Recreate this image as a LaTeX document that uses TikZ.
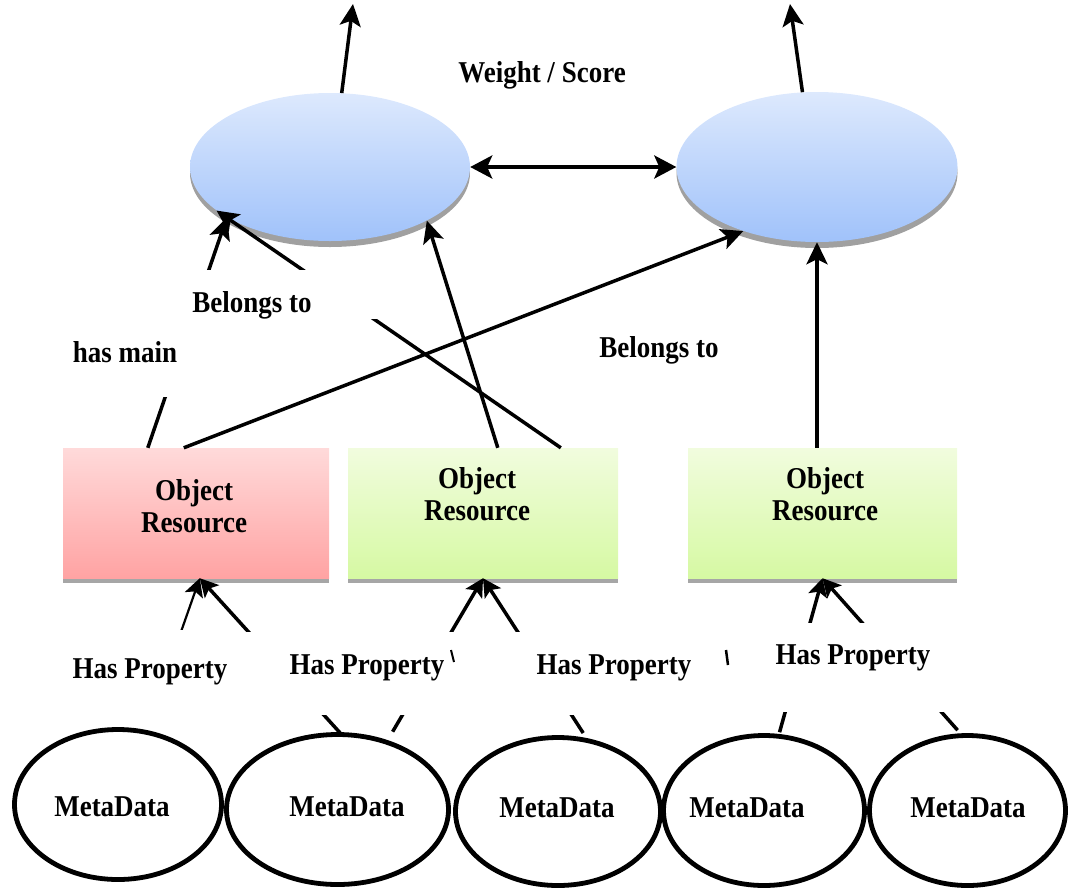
\documentclass[tikz,border=0pt]{standalone}
\usepackage{fontspec}
\usepackage{graphicx}
\setmainfont{Liberation Serif}
\usetikzlibrary{arrows.meta,calc,shadows,shapes.geometric}
\definecolor{blueT}{RGB}{221,233,253}
\definecolor{blueB}{RGB}{160,194,250}
\definecolor{pinkT}{RGB}{255,218,218}
\definecolor{pinkB}{RGB}{255,163,163}
\definecolor{greenT}{RGB}{241,252,222}
\definecolor{greenB}{RGB}{214,249,163}
\newcommand{\tallt}[1]{\scalebox{1}[1.12]{#1}}
\begin{document}
\begin{tikzpicture}[x=1pt,y=-1pt,
  lbl/.style={font=\bfseries\fontsize{27}{32}\selectfont, inner sep=0pt, align=center},
  blueell/.style={ellipse, inner sep=0pt, draw=none, top color=blueT, bottom color=blueB,
    drop shadow={shadow xshift=0pt, shadow yshift=-6pt, fill=gray, opacity=0.75}},
  objbox/.style={rectangle, inner sep=0pt, minimum height=130pt, draw=none,
    drop shadow={shadow xshift=0pt, shadow yshift=-5pt, fill=gray, opacity=0.7}},
  mdell/.style={ellipse, draw=black, line width=4.8pt, inner sep=0pt},
  conn/.style={line width=3.5pt, -{Stealth[length=22pt,width=21pt,inset=5pt]}},
  dbl/.style={line width=3.8pt, {Stealth[length=22pt,width=23pt,inset=5pt]}-{Stealth[length=22pt,width=23pt,inset=5pt]}},
  connb/.style={line width=3.5pt, -{Stealth[length=18pt,width=19pt,inset=4pt]}},
  mask/.style={fill=white, draw=none}]
\useasboundingbox (0,0) rectangle (1073,892);

% upper ellipses
\node[blueell, minimum width=280pt, minimum height=148pt] (e1) at (330,167) {};
\node[blueell, minimum width=281pt, minimum height=150pt] (e2) at (817,167) {};

% object boxes
\node[objbox, minimum width=266pt, top color=pinkT, bottom color=pinkB,
  label={[lbl,xshift=-2pt,yshift=7pt]center:\tallt{Object}\\\tallt{Resource}}] (obj1) at (196,513) {};
\node[objbox, minimum width=270pt, top color=greenT, bottom color=greenB,
  label={[lbl,xshift=-6pt,yshift=19pt]center:\tallt{Object}\\\tallt{Resource}}] (obj2) at (483,513) {};
\node[objbox, minimum width=269pt, top color=greenT, bottom color=greenB,
  label={[lbl,xshift=2.5pt,yshift=19pt]center:\tallt{Object}\\\tallt{Resource}}] (obj3) at (822.5,513) {};

% free ends of the upward arrows
\coordinate (u1) at (353,4);
\coordinate (u2) at (790,4);

% metadata ellipses (defined now, outlined on top later)
\path (118,804.5) node[ellipse, inner sep=0pt, minimum width=207pt, minimum height=150pt] (md1) {};
\path (337.5,809.5) node[ellipse, inner sep=0pt, minimum width=222pt, minimum height=150pt] (md2) {};
\path (558,811.5) node[ellipse, inner sep=0pt, minimum width=205pt, minimum height=148pt] (md3) {};
\path (764,810.5) node[ellipse, inner sep=0pt, minimum width=201pt, minimum height=150pt] (md4) {};
\path (967.5,810.5) node[ellipse, inner sep=0pt, minimum width=196pt, minimum height=150pt] (md5) {};

% upper connectors
\draw[conn] (e1.81) -- (u1);
\draw[conn] (e2.101) -- (u2);
\draw[dbl] (e1.east) -- (e2.west);
\draw[conn] ($(obj1.north west)+(85,0)$) -- (e1.206.6);
\draw[conn] ($(obj2.north west)+(213,0)$) -- (e1.201);
\draw[conn] ($(obj2.north west)+(150,0)$) -- (e1.331);
\draw[conn] ($(obj1.north west)+(121,0)$) -- (e2.221.6);
\draw[conn] (e2.south |- obj3.north) -- (e2.south);

% lower connectors
\draw[connb, line width=2.2pt] (md1.69) -- ($(obj1.south west)+(137,0)$);
\draw[connb] (md2.87) -- ($(obj1.south west)+(137,0)$);
\draw[connb, shorten <=12pt] (md2.54) -- (obj2.south);
\draw[connb, shorten <=9pt] (md3.67) -- (obj2.south);
\draw[connb, shorten <=4pt] (md4.79) -- (obj3.south);
\draw[connb, shorten <=7pt] (md5.94) -- (obj3.south);

% white label backgrounds that hide parts of the connectors
\fill[mask] (185,270) rectangle (383,319);
\fill[mask] (60,318) rectangle (200,397);
\fill[mask] (60,630) rectangle (236,734);
\fill[mask] (240,632) rectangle (466,715);
\fill[mask] (500,632) rectangle (600,715);
\fill[mask] (770,623) rectangle (952,712);

% small stray marks
\draw[line width=2pt] (451,650) -- (454,662);
\draw[line width=2.5pt] (726,650) -- (728,665);

% metadata ellipses outlines and texts
\node[mdell, minimum width=207pt, minimum height=150pt, label={[lbl,xshift=-6pt,yshift=-2.5pt]center:\tallt{MetaData}}] at (md1.center) {};
\node[mdell, minimum width=222pt, minimum height=150pt, label={[lbl,xshift=9.5pt,yshift=2.5pt]center:\tallt{MetaData}}] at (md2.center) {};
\node[mdell, minimum width=205pt, minimum height=148pt, label={[lbl,xshift=-1pt,yshift=3.5pt]center:\tallt{MetaData}}] at (md3.center) {};
\node[mdell, minimum width=201pt, minimum height=150pt, label={[lbl,xshift=-17pt,yshift=2.5pt]center:\tallt{MetaData}}] at (md4.center) {};
\node[mdell, minimum width=196pt, minimum height=150pt, label={[lbl,xshift=0.5pt,yshift=2.5pt]center:\tallt{MetaData}}] at (md5.center) {};

% labels
\node[lbl] (ws) at (542,75) {\tallt{Weight / Score}};
\node[lbl] (bt1) at (252,305) {\tallt{Belongs to}};
\node[lbl] (hm) at (125,352) {\tallt{has main}};
\node[lbl] (bt2) at (659,350) {\tallt{Belongs to}};
\node[lbl] (hp1) at (150,672) {\tallt{Has Property}};
\node[lbl] (hp2) at (367,668) {\tallt{Has Property}};
\node[lbl] (hp3) at (614,668) {\tallt{Has Property}};
\node[lbl] (hp4) at (853,658) {\tallt{Has Property}};
\end{tikzpicture}
\end{document}
